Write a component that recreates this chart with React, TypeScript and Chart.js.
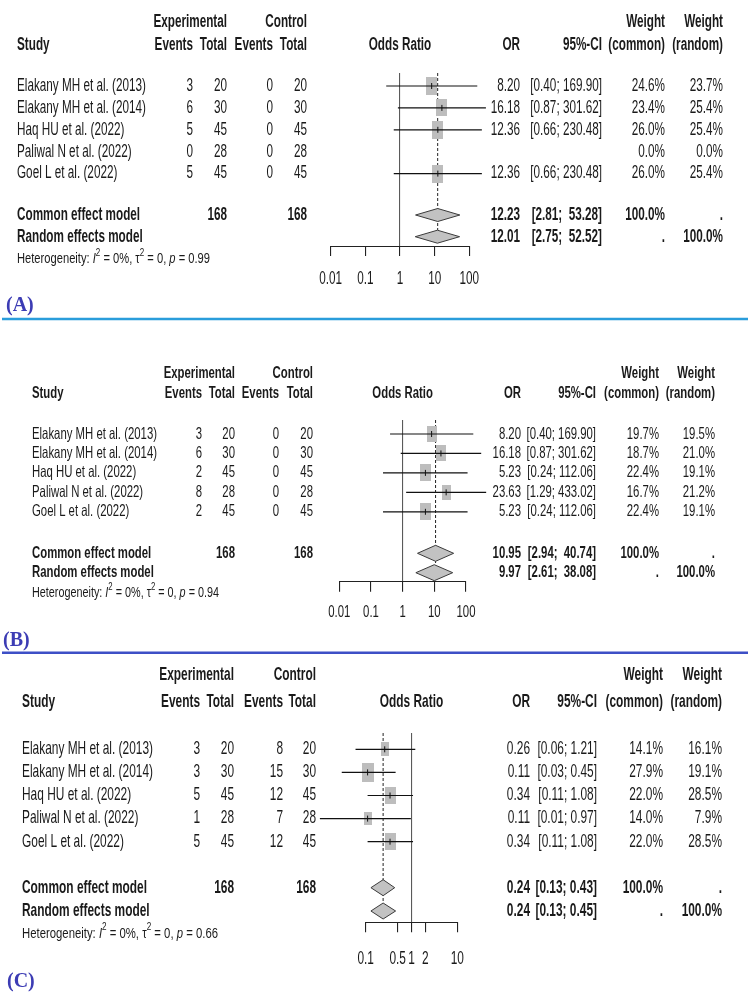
import React, { useEffect, useRef } from "react";
import { Chart, registerables } from "chart.js";
Chart.register(...registerables);

// ---------------- DATA ----------------
const STUDIES = [
  "Elakany MH et al. (2013)",
  "Elakany MH et al. (2014)",
  "Haq HU et al. (2022)",
  "Paliwal N et al. (2022)",
  "Goel L et al. (2022)",
];
const EXP_TOTAL = [20, 30, 45, 28, 45];
const CTRL_TOTAL = [20, 30, 45, 28, 45];

// Panel A
const A_EXP_EVENTS = [3, 6, 5, 0, 5];
const A_CTRL_EVENTS = [0, 0, 0, 0, 0];
const A_OR = [8.2, 16.18, 12.36, null, 12.36];
const A_LOWER = [0.4, 0.87, 0.66, null, 0.66];
const A_UPPER = [169.9, 301.62, 230.48, null, 230.48];
const A_W_COMMON = [24.6, 23.4, 26.0, 0.0, 26.0];
const A_W_RANDOM = [23.7, 25.4, 25.4, 0.0, 25.4];
const A_COMMON = [12.23, 2.81, 53.28];
const A_RANDOM = [12.01, 2.75, 52.52];
const A_HET = ["0%", "0", "0.99"];
const A_TICKS = [0.01, 0.1, 1, 10, 100];

// Panel B
const B_EXP_EVENTS = [3, 6, 2, 8, 2];
const B_CTRL_EVENTS = [0, 0, 0, 0, 0];
const B_OR = [8.2, 16.18, 5.23, 23.63, 5.23];
const B_LOWER = [0.4, 0.87, 0.24, 1.29, 0.24];
const B_UPPER = [169.9, 301.62, 112.06, 433.02, 112.06];
const B_W_COMMON = [19.7, 18.7, 22.4, 16.7, 22.4];
const B_W_RANDOM = [19.5, 21.0, 19.1, 21.2, 19.1];
const B_COMMON = [10.95, 2.94, 40.74];
const B_RANDOM = [9.97, 2.61, 38.08];
const B_HET = ["0%", "0", "0.94"];
const B_TICKS = [0.01, 0.1, 1, 10, 100];

// Panel C
const C_EXP_EVENTS = [3, 3, 5, 1, 5];
const C_CTRL_EVENTS = [8, 15, 12, 7, 12];
const C_OR = [0.26, 0.11, 0.34, 0.11, 0.34];
const C_LOWER = [0.06, 0.03, 0.11, 0.01, 0.11];
const C_UPPER = [1.21, 0.45, 1.08, 0.97, 1.08];
const C_W_COMMON = [14.1, 27.9, 22.0, 14.0, 22.0];
const C_W_RANDOM = [16.1, 19.1, 28.5, 7.9, 28.5];
const C_COMMON = [0.24, 0.13, 0.43];
const C_RANDOM = [0.24, 0.13, 0.45];
const C_HET = ["0%", "0", "0.66"];
const C_TICKS = [0.1, 0.5, 1, 2, 10];

// ---------------- STYLE / LAYOUT ----------------
const W = 750;
const AXIS_H = 12;
const FONT = '"Liberation Sans", Arial, Helvetica, sans-serif';
const SERIF = '"Liberation Serif", "Times New Roman", serif';
const TEXT = "#1a1a1a";
const SQ_FILL = "#bdbdbd";
const DIA_FILL = "#c2c2c2";
const SQ_KW = 22.5;
const SQ_KH = 36;

type PanelData = {
  letter: string;
  expEvents: number[];
  ctrlEvents: number[];
  or: (number | null)[];
  lo: (number | null)[];
  hi: (number | null)[];
  wCommon: number[];
  wRandom: number[];
  common: number[];
  random: number[];
  het: string[];
  ticks: number[];
};

type Layout = {
  height: number;
  xLeft: number;
  xRight: number;
  top: number;
  axis: number;
  row0: number;
  step: number;
  common: number;
  random: number;
  het: number;
  tickLab: number;
  h1: number;
  h2: number;
  letterX: number;
  letterY: number;
  sep: number | null;
  sepColor: string;
  font: number;
  nameW: number;
  hetFont: number;
  hetW: number;
  colName: number;
  colExpEv: number;
  colExpTot: number;
  colCtrlEv: number;
  colCtrlTot: number;
  colOR: number;
  colCI: number;
  colWC: number;
  colWR: number;
  diamondHalf: number;
};

const PANEL_A: PanelData = {
  letter: "(A)", expEvents: A_EXP_EVENTS, ctrlEvents: A_CTRL_EVENTS, or: A_OR, lo: A_LOWER, hi: A_UPPER,
  wCommon: A_W_COMMON, wRandom: A_W_RANDOM, common: A_COMMON, random: A_RANDOM, het: A_HET, ticks: A_TICKS,
};
const PANEL_B: PanelData = {
  letter: "(B)", expEvents: B_EXP_EVENTS, ctrlEvents: B_CTRL_EVENTS, or: B_OR, lo: B_LOWER, hi: B_UPPER,
  wCommon: B_W_COMMON, wRandom: B_W_RANDOM, common: B_COMMON, random: B_RANDOM, het: B_HET, ticks: B_TICKS,
};
const PANEL_C: PanelData = {
  letter: "(C)", expEvents: C_EXP_EVENTS, ctrlEvents: C_CTRL_EVENTS, or: C_OR, lo: C_LOWER, hi: C_UPPER,
  wCommon: C_W_COMMON, wRandom: C_W_RANDOM, common: C_COMMON, random: C_RANDOM, het: C_HET, ticks: C_TICKS,
};

const LAYOUT_A: Layout = {
  height: 322, xLeft: 330.7, xRight: 469.3, top: 73, axis: 246, row0: 86, step: 21.9,
  common: 215, random: 236.7, het: 259, tickLab: 279, h1: 21.7, h2: 45,
  letterX: 6, letterY: 306, sep: 319, sepColor: "#2a9ddb",
  font: 17.5, nameW: 129, hetFont: 15, hetW: 193,
  colName: 17, colExpEv: 193, colExpTot: 227, colCtrlEv: 273, colCtrlTot: 307,
  colOR: 520, colCI: 602, colWC: 665, colWR: 723, diamondHalf: 6.5,
};
const LAYOUT_B: Layout = {
  height: 333, xLeft: 339.3, xRight: 466, top: 98, axis: 259.7, row0: 112, step: 19.45,
  common: 231.3, random: 250.7, het: 271.3, tickLab: 290.7, h1: 51, h2: 71,
  letterX: 3, letterY: 319, sep: 330.7, sepColor: "#3d4fc6",
  font: 16.5, nameW: 125, hetFont: 14.5, hetW: 187,
  colName: 32, colExpEv: 202, colExpTot: 235, colCtrlEv: 279, colCtrlTot: 313,
  colOR: 521, colCI: 596, colWC: 659, colWR: 715, diamondHalf: 8,
};
const LAYOUT_C: Layout = {
  height: 340, xLeft: 365.7, xRight: 457.3, top: 78, axis: 267.3, row0: 94.3, step: 23.1,
  common: 232.7, random: 256, het: 278.3, tickLab: 304.3, h1: 20, h2: 46.7,
  letterX: 7, letterY: 327, sep: null, sepColor: "#3d4fc6",
  font: 17.7, nameW: 131, hetFont: 15.5, hetW: 196,
  colName: 22, colExpEv: 200, colExpTot: 234, colCtrlEv: 283, colCtrlTot: 316,
  colOR: 530, colCI: 597, colWC: 663, colWR: 722, diamondHalf: 8,
};

function makeSquare(weight: number): HTMLCanvasElement {
  const c = document.createElement("canvas");
  const s = Math.sqrt(weight / 100);
  c.width = Math.max(2, Math.round(SQ_KW * s));
  c.height = Math.max(2, Math.round(SQ_KH * s));
  const g = c.getContext("2d")!;
  g.fillStyle = SQ_FILL;
  g.fillRect(0, 0, c.width, c.height);
  return c;
}

function drawText(
  ctx: CanvasRenderingContext2D, s: string, x: number, y: number, size: number, k: number,
  opts: { bold?: boolean; italic?: boolean; align?: CanvasTextAlign; color?: string; family?: string } = {}
) {
  ctx.save();
  ctx.font = `${opts.italic ? "italic " : ""}${opts.bold ? "bold " : ""}${size}px ${opts.family || FONT}`;
  ctx.fillStyle = opts.color || TEXT;
  ctx.textAlign = opts.align || "left";
  ctx.textBaseline = "middle";
  ctx.translate(x, y);
  ctx.scale(k, 1);
  ctx.fillText(s, 0, 0);
  ctx.restore();
}

function ForestPanel({ data, layout }: { data: PanelData; layout: Layout }) {
  const ref = useRef<HTMLCanvasElement>(null);
  useEffect(() => {
    const canvas = ref.current!;
    const D = data;
    const L = layout;
    const rowOf = (px: number) => (px - L.row0) / L.step;
    const commonRow = rowOf(L.common);
    const randomRow = rowOf(L.random);
    const half = L.diamondHalf / L.step;
    const idx = STUDIES.map((_, i) => i).filter((i) => D.or[i] !== null);

    const datasets: any[] = [];
    // dashed line at common effect estimate
    datasets.push({
      data: [{ x: D.common[0], y: rowOf(L.top) }, { x: D.common[0], y: randomRow - half }],
      showLine: true, borderColor: "#222", borderWidth: 1, borderDash: [3, 2],
      pointRadius: 0, order: 10, clip: false,
    });
    // diamonds
    [[D.common, commonRow], [D.random, randomRow]].forEach(([s, r]: any) => {
      datasets.push({
        data: [
          { x: s[1], y: r }, { x: s[0], y: r - half }, { x: s[2], y: r },
          { x: s[0], y: r + half }, { x: s[1], y: r },
        ],
        showLine: true, fill: "shape", backgroundColor: DIA_FILL, borderColor: "#3a3a3a",
        borderWidth: 1, pointRadius: 0, tension: 0, order: 9, clip: false,
      });
    });
    // squares
    datasets.push({
      data: idx.map((i) => ({ x: D.or[i], y: i })),
      pointStyle: idx.map((i) => makeSquare(D.wCommon[i])),
      pointRadius: 5, order: 8, clip: false,
    });
    // CI lines
    idx.forEach((i) => {
      datasets.push({
        data: [{ x: D.lo[i], y: i }, { x: D.hi[i], y: i }],
        showLine: true, borderColor: "#111", borderWidth: 1.2, pointRadius: 0, order: 7, clip: false,
      });
    });
    // estimate ticks
    datasets.push({
      data: idx.map((i) => ({ x: D.or[i], y: i })),
      pointStyle: "line", pointRotation: 90, pointRadius: 3,
      pointBorderColor: "#111", pointBorderWidth: 1, order: 6, clip: false,
    });

    const fmt = (v: number) => v.toFixed(2);
    const allHi = [...idx.map((i) => fmt(D.hi[i] as number)), fmt(D.common[2]), fmt(D.random[2])];
    const hiLen = Math.max(...allHi.map((s) => s.length));
    const ci = (lo: number, hi: number) => `[${fmt(lo)}; ${fmt(hi).padStart(hiLen, " ")}]`;
    const sum = (a: number[]) => a.reduce((p, c) => p + c, 0);

    const textPlugin = {
      id: "forestText",
      afterDraw(chart: any) {
        const ctx: CanvasRenderingContext2D = chart.ctx;
        const ys = chart.scales.y;
        const xs = chart.scales.x;
        const fs = L.font;
        ctx.save();
        ctx.font = `${fs}px ${FONT}`;
        const k = L.nameW / ctx.measureText(STUDIES[0]).width;
        ctx.restore();
        const t = (s: string, x: number, y: number, o: any = {}) => drawText(ctx, s, x, y, fs, k, o);
        const B = { bold: true };
        const BR = { bold: true, align: "right" };
        const R = { align: "right" };

        // headers
        t("Experimental", L.colExpTot, L.h1, BR);
        t("Control", L.colCtrlTot, L.h1, BR);
        t("Weight", L.colWC, L.h1, BR);
        t("Weight", L.colWR, L.h1, BR);
        t("Study", L.colName, L.h2, B);
        t("Events", L.colExpEv, L.h2, BR);
        t("Total", L.colExpTot, L.h2, BR);
        t("Events", L.colCtrlEv, L.h2, BR);
        t("Total", L.colCtrlTot, L.h2, BR);
        t("Odds Ratio", (xs.left + xs.right) / 2, L.h2, { bold: true, align: "center" });
        t("OR", L.colOR, L.h2, BR);
        t("95%-CI", L.colCI, L.h2, BR);
        t("(common)", L.colWC, L.h2, BR);
        t("(random)", L.colWR, L.h2, BR);

        // study rows
        STUDIES.forEach((name, i) => {
          const y = ys.getPixelForValue(i);
          t(name, L.colName, y);
          t(String(D.expEvents[i]), L.colExpEv, y, R);
          t(String(EXP_TOTAL[i]), L.colExpTot, y, R);
          t(String(D.ctrlEvents[i]), L.colCtrlEv, y, R);
          t(String(CTRL_TOTAL[i]), L.colCtrlTot, y, R);
          if (D.or[i] !== null) {
            t(fmt(D.or[i] as number), L.colOR, y, R);
            t(ci(D.lo[i] as number, D.hi[i] as number), L.colCI, y, R);
          }
          t(D.wCommon[i].toFixed(1) + "%", L.colWC, y, R);
          t(D.wRandom[i].toFixed(1) + "%", L.colWR, y, R);
        });

        // summary rows
        const yc = ys.getPixelForValue(commonRow);
        t("Common effect model", L.colName, yc, B);
        t(String(sum(EXP_TOTAL)), L.colExpTot, yc, BR);
        t(String(sum(CTRL_TOTAL)), L.colCtrlTot, yc, BR);
        t(fmt(D.common[0]), L.colOR, yc, BR);
        t(ci(D.common[1], D.common[2]), L.colCI, yc, BR);
        t("100.0%", L.colWC, yc, BR);
        t(".", L.colWR, yc, BR);
        const yr = ys.getPixelForValue(randomRow);
        t("Random effects model", L.colName, yr, B);
        t(fmt(D.random[0]), L.colOR, yr, BR);
        t(ci(D.random[1], D.random[2]), L.colCI, yr, BR);
        t(".", L.colWC, yr, BR);
        t("100.0%", L.colWR, yr, BR);

        // heterogeneity
        const hf = L.hetFont;
        const parts = [
          { s: "Heterogeneity: " }, { s: "I", it: true }, { s: "2", sup: true },
          { s: ` = ${D.het[0]}, ` }, { s: "\u03c4" }, { s: "2", sup: true },
          { s: ` = ${D.het[1]}, ` }, { s: "p", it: true }, { s: ` = ${D.het[2]}` },
        ];
        const partFont = (p: any) => `${p.it ? "italic " : ""}${p.sup ? hf * 0.72 : hf}px ${FONT}`;
        let natural = 0;
        ctx.save();
        parts.forEach((p) => { ctx.font = partFont(p); natural += ctx.measureText(p.s).width; });
        ctx.restore();
        const hk = L.hetW / natural;
        let cx = L.colName;
        parts.forEach((p: any) => {
          ctx.save();
          ctx.font = partFont(p);
          const w = ctx.measureText(p.s).width * hk;
          ctx.restore();
          drawText(ctx, p.s, cx, p.sup ? L.het - hf * 0.42 : L.het, p.sup ? hf * 0.72 : hf, hk, { italic: p.it });
          cx += w;
        });

        // tick labels
        D.ticks.forEach((v) => t(String(v), xs.getPixelForValue(v), L.tickLab, { align: "center" }));

        // panel letter
        drawText(ctx, D.letter, L.letterX, L.letterY, 20, 1, { bold: true, family: SERIF, color: "#3c3cb4" });

        // separator
        if (L.sep !== null) {
          ctx.save();
          ctx.strokeStyle = L.sepColor;
          ctx.lineWidth = 2.5;
          ctx.beginPath();
          ctx.moveTo(2, L.sep);
          ctx.lineTo(W - 2, L.sep);
          ctx.stroke();
          ctx.restore();
        }
      },
    };

    const chart = new Chart(canvas, {
      type: "scatter",
      data: { datasets },
      options: {
        animation: false,
        responsive: false,
        events: [],
        layout: {
          padding: {
            left: L.xLeft,
            right: W - L.xRight,
            top: L.top,
            bottom: L.height - L.axis - AXIS_H,
          },
        },
        plugins: { legend: { display: false }, tooltip: { enabled: false } },
        scales: {
          x: {
            type: "logarithmic",
            min: D.ticks[0],
            max: D.ticks[D.ticks.length - 1],
            afterBuildTicks: (s: any) => { s.ticks = D.ticks.map((v) => ({ value: v })); },
            afterFit: (s: any) => { s.height = AXIS_H; },
            ticks: { display: false },
            grid: {
              display: true,
              drawOnChartArea: true,
              drawTicks: true,
              tickLength: 10,
              color: (c: any) => (c.tick && c.tick.value === 1 ? "#5a5a5a" : "rgba(0,0,0,0)"),
              tickColor: "#222",
              lineWidth: 1.1,
            },
            border: { display: true, color: "#222", width: 1 },
          },
          y: {
            type: "linear",
            display: false,
            reverse: true,
            min: rowOf(L.top),
            max: rowOf(L.axis),
          },
        },
      } as any,
      plugins: [textPlugin as any],
    });
    return () => chart.destroy();
  }, [data, layout]);
  return <canvas ref={ref} width={W} height={layout.height} style={{ display: "block" }} />;
}

export default function App() {
  return (
    <div style={{ position: "absolute", left: 0, top: 0, width: W, height: 995, background: "#fff" }}>
      <ForestPanel data={PANEL_A} layout={LAYOUT_A} />
      <ForestPanel data={PANEL_B} layout={LAYOUT_B} />
      <ForestPanel data={PANEL_C} layout={LAYOUT_C} />
    </div>
  );
}
